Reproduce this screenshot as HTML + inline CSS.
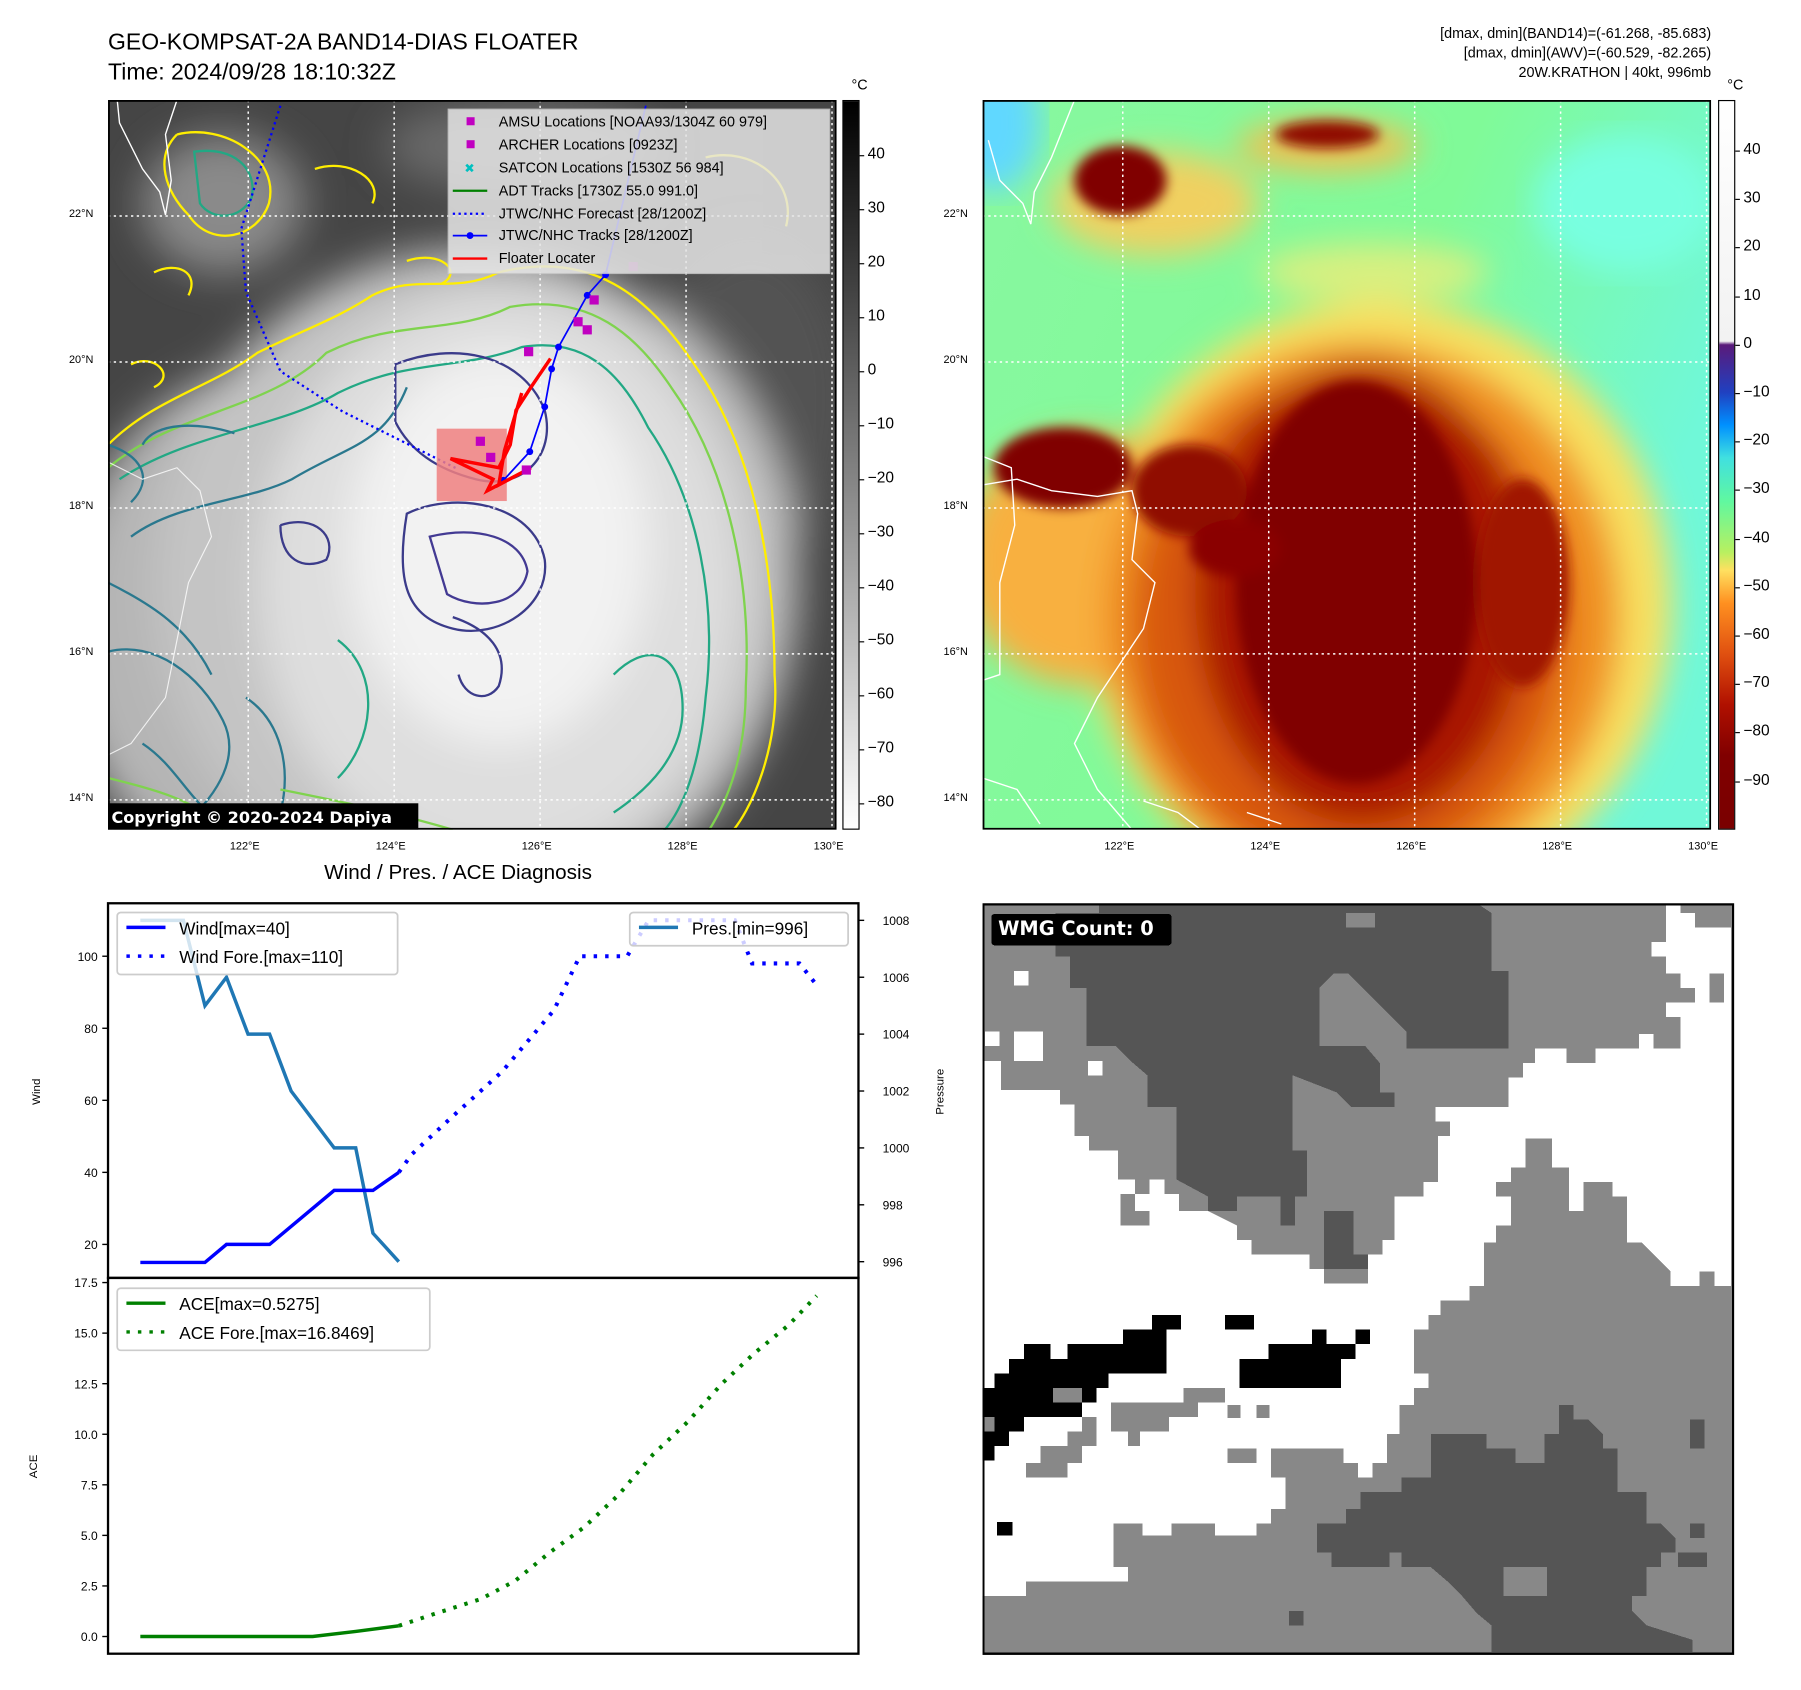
<!DOCTYPE html>
<html><head><meta charset="utf-8">
<style>
html,body{margin:0;padding:0;background:#fff;}
body{width:1801px;height:1690px;overflow:hidden;position:relative;font-family:"Liberation Sans","DejaVu Sans",sans-serif;}
#wrap{position:absolute;left:0;top:0;width:1568px;height:1471px;transform:scale(1.1492);transform-origin:0 0;}
.abs{position:absolute;}
.t{position:absolute;white-space:nowrap;color:#000;}
</style></head>
<body>
<div id="wrap">
<div class="t" style="left:94px;top:24px;font-size:20px;line-height:26px;">GEO-KOMPSAT-2A BAND14-DIAS FLOATER<br>Time: 2024/09/28 18:10:32Z</div>
<div class="t" style="right:79px;top:21px;font-size:12.5px;line-height:17px;text-align:right;">[dmax, dmin](BAND14)=(-61.268, -85.683)<br>[dmax, dmin](AWV)=(-60.529, -82.265)<br>20W.KRATHON | 40kt, 996mb</div>

<!-- MAP 1 -->
<svg class="abs" style="left:94px;top:87px" width="634" height="635" viewBox="0 0 634 635">
<defs>
<filter id="b1"><feGaussianBlur stdDeviation="18"/></filter>
<filter id="b2"><feGaussianBlur stdDeviation="6"/></filter>
</defs>
<rect width="634" height="635" fill="#454545"/>
<g filter="url(#b1)">
<ellipse cx="100" cy="90" rx="70" ry="60" fill="#8a8a8a"/>
<ellipse cx="360" cy="40" rx="120" ry="40" fill="#6a6a6a"/>
<ellipse cx="560" cy="260" rx="90" ry="140" fill="#525252"/>
<ellipse cx="150" cy="460" rx="190" ry="230" fill="#b5b5b5"/>
<ellipse cx="320" cy="420" rx="280" ry="290" fill="#c4c4c4"/>
<ellipse cx="340" cy="420" rx="210" ry="250" fill="#dedede"/>
<ellipse cx="340" cy="390" rx="130" ry="170" fill="#f2f2f2"/>
</g>
<g fill="none" stroke-width="2">
<path d="M0,300 C40,260 90,250 130,220 C170,200 200,190 230,170 C270,150 300,170 340,150 C420,130 470,170 510,230 C560,300 580,400 580,500 C585,560 560,620 540,640" stroke="#ffee00"/>
<path d="M0,320 C60,270 140,270 190,220 C250,190 300,205 350,180 C420,168 460,205 490,250 C540,320 560,420 555,510 C555,570 540,610 520,640" stroke="#7fd34e"/>
<path d="M10,330 C70,290 150,285 200,255 C260,225 310,235 360,215 C420,205 450,245 470,285 C515,350 530,440 520,520 C515,580 500,620 480,640" stroke="#22a884"/>
<path d="M30,300 C40,280 80,280 110,290 M20,380 C60,350 120,350 160,330 C210,300 240,300 260,250" stroke="#2a788e"/>
<path d="M60,30 C100,20 150,50 140,90 C130,120 90,130 70,100 C50,80 40,50 60,30" stroke="#ffee00"/>
<path d="M75,45 C110,40 130,60 125,85 C115,105 90,105 80,90 Z" stroke="#22a884"/>
<path d="M40,150 C60,140 80,150 70,170 M20,230 C40,220 60,240 40,250 M180,60 C210,50 240,70 230,90 M260,140 C290,130 310,150 290,160 M520,50 C560,40 600,70 590,110" stroke="#ffee00"/>
<path d="M250,230 C300,210 360,220 380,270 C390,310 360,340 320,330 C280,320 260,300 250,280 Z" stroke="#3b3b8a"/>
<path d="M260,360 C300,340 370,350 380,400 C385,440 340,470 300,460 C260,450 250,420 260,360 Z" stroke="#3b3b8a"/>
<path d="M280,380 C320,370 360,380 365,410 C360,440 320,445 295,430 Z" stroke="#433a93"/>
<path d="M300,450 C330,460 350,480 340,510 C330,525 310,520 305,500" stroke="#3b3b8a"/>
<path d="M150,370 C180,360 200,380 190,400 C170,410 150,400 150,370" stroke="#3b3b8a"/>
<path d="M0,300 C30,310 40,330 20,350 M0,480 C40,470 80,500 100,540 C120,580 80,620 60,635" stroke="#2a788e"/>
<path d="M0,420 C40,440 70,460 90,500 M30,560 C60,580 70,610 100,630 M120,520 C150,540 160,580 150,620" stroke="#2a788e"/>
<path d="M440,500 C470,470 500,480 500,530 C500,570 470,600 440,620" stroke="#22a884"/>
<path d="M200,470 C240,500 230,560 200,590" stroke="#22a884"/>
<path d="M0,590 C40,600 80,610 100,635 M150,600 C200,610 250,620 300,635" stroke="#7fd34e"/>
</g>
<g stroke="#fff" stroke-width="1.3" stroke-dasharray="2,3">
<line x1="122" y1="0" x2="122" y2="635"/><line x1="249" y1="0" x2="249" y2="635"/><line x1="376" y1="0" x2="376" y2="635"/><line x1="503" y1="0" x2="503" y2="635"/><line x1="630" y1="0" x2="630" y2="635"/>
<line x1="0" y1="101" x2="634" y2="101"/><line x1="0" y1="228" x2="634" y2="228"/><line x1="0" y1="355" x2="634" y2="355"/><line x1="0" y1="482" x2="634" y2="482"/><line x1="0" y1="609" x2="634" y2="609"/>
</g>
<path d="M8,0 L10,20 L30,60 L45,80 L50,100 L55,70 L50,30 L60,0" fill="none" stroke="#fff" stroke-width="1.2"/>
<path d="M0,315 L30,330 L60,320 L80,340 L90,380 L70,420 L60,470 L50,520 L20,560 L0,570" fill="none" stroke="#fff" stroke-width="1" opacity="0.8"/>
<polyline points="150,5 116,112 120,167 150,236 204,271 254,296 304,321" fill="none" stroke="#0000ff" stroke-width="2" stroke-dasharray="2,3"/>
<rect x="286" y="286" width="61" height="63" fill="#f08080" opacity="0.85"/>
<polyline points="468,5 433,152 417,170 392,215 386,234 380,267 367,306 344,331" fill="none" stroke="#0000ff" stroke-width="1.5"/>
<g fill="#0000ff"><circle cx="433" cy="152" r="3"/><circle cx="417" cy="170" r="3"/><circle cx="392" cy="215" r="3"/><circle cx="386" cy="234" r="3"/><circle cx="380" cy="267" r="3"/><circle cx="367" cy="306" r="3"/><circle cx="344" cy="331" r="3"/></g>
<polyline points="385,225 368,250 355,270 350,300 340,320 298,312 335,330 330,340 368,320 340,335 345,305 360,255" fill="none" stroke="#ff0000" stroke-width="3"/>
<g fill="#c000c0"><rect x="362" y="215" width="8" height="8"/><rect x="405" y="189" width="8" height="8"/><rect x="413" y="196" width="8" height="8"/><rect x="419" y="170" width="8" height="8"/><rect x="360" y="318" width="8" height="8"/><rect x="320" y="293" width="8" height="8"/><rect x="329" y="307" width="8" height="8"/><rect x="453" y="141" width="8" height="8" opacity="0.5"/></g>
<rect x="296" y="8" width="332" height="143" fill="#e6e6e6" opacity="0.85" stroke="#ccc"/>
<g font-size="12.5" fill="#000" font-family="Liberation Sans, sans-serif">
<rect x="312" y="15" width="7" height="7" fill="#c000c0"/><text x="340" y="23">AMSU Locations [NOAA93/1304Z 60 979]</text>
<rect x="312" y="35" width="7" height="7" fill="#c000c0"/><text x="340" y="43">ARCHER Locations [0923Z]</text>
<text x="310" y="63" fill="#00c0c0" font-size="11">✖</text><text x="340" y="63">SATCON Locations [1530Z 56 984]</text>
<line x1="300" y1="79" x2="330" y2="79" stroke="#008000" stroke-width="2"/><text x="340" y="83">ADT Tracks [1730Z 55.0 991.0]</text>
<line x1="300" y1="99" x2="330" y2="99" stroke="#0000ff" stroke-width="2" stroke-dasharray="2,3"/><text x="340" y="103">JTWC/NHC Forecast [28/1200Z]</text>
<line x1="300" y1="118" x2="330" y2="118" stroke="#0000ff" stroke-width="1.5"/><circle cx="315" cy="118" r="3" fill="#0000ff"/><text x="340" y="122">JTWC/NHC Tracks [28/1200Z]</text>
<line x1="300" y1="138" x2="330" y2="138" stroke="#ff0000" stroke-width="2"/><text x="340" y="142">Floater Locater</text>
</g>
<rect x="0" y="612" width="270" height="23" fill="#000"/>
<text x="3" y="629" fill="#fff" font-size="14" font-weight="bold" font-family="DejaVu Sans, sans-serif">Copyright © 2020-2024 Dapiya</text>
<rect x="0.8" y="0.8" width="632.4" height="633.4" fill="none" stroke="#000" stroke-width="1.6"/>
</svg>

<div>
<div class="t" style="left:60px;top:181px;font-size:9.5px">22°N</div>
<div class="t" style="left:60px;top:308px;font-size:9.5px">20°N</div>
<div class="t" style="left:60px;top:435px;font-size:9.5px">18°N</div>
<div class="t" style="left:60px;top:562px;font-size:9.5px">16°N</div>
<div class="t" style="left:60px;top:689px;font-size:9.5px">14°N</div>
</div>
<div>
<div class="t" style="left:200px;top:731px;font-size:9.5px">122°E</div>
<div class="t" style="left:327px;top:731px;font-size:9.5px">124°E</div>
<div class="t" style="left:454px;top:731px;font-size:9.5px">126°E</div>
<div class="t" style="left:581px;top:731px;font-size:9.5px">128°E</div>
<div class="t" style="left:708px;top:731px;font-size:9.5px">130°E</div>
</div>
<div>
<div class="t" style="left:821px;top:181px;font-size:9.5px">22°N</div>
<div class="t" style="left:821px;top:308px;font-size:9.5px">20°N</div>
<div class="t" style="left:821px;top:435px;font-size:9.5px">18°N</div>
<div class="t" style="left:821px;top:562px;font-size:9.5px">16°N</div>
<div class="t" style="left:821px;top:689px;font-size:9.5px">14°N</div>
</div>
<div>
<div class="t" style="left:961px;top:731px;font-size:9.5px">122°E</div>
<div class="t" style="left:1088px;top:731px;font-size:9.5px">124°E</div>
<div class="t" style="left:1215px;top:731px;font-size:9.5px">126°E</div>
<div class="t" style="left:1342px;top:731px;font-size:9.5px">128°E</div>
<div class="t" style="left:1469px;top:731px;font-size:9.5px">130°E</div>
</div>

<div class="t" style="left:741px;top:67px;font-size:12.5px">°C</div>
<div class="abs" style="left:733px;top:87px;width:13px;height:633px;border:1px solid #000;background:linear-gradient(#000,#fff);"></div>
<div id="cb1"></div>

<!-- MAP 2 -->
<svg class="abs" style="left:855px;top:87px" width="634" height="635" viewBox="0 0 634 635">
<defs>
<filter id="c1"><feGaussianBlur stdDeviation="14"/></filter>
<filter id="c2"><feGaussianBlur stdDeviation="5"/></filter>
<linearGradient id="bgg" x1="0" y1="0" x2="1" y2="0.4"><stop offset="0" stop-color="#88f8a0"/><stop offset="0.6" stop-color="#80fa98"/><stop offset="1" stop-color="#70f8d8"/></linearGradient>
</defs>
<rect width="634" height="635" fill="url(#bgg)"/>
<ellipse cx="10" cy="20" rx="40" ry="60" fill="#60d8ff" filter="url(#c1)"/>
<ellipse cx="560" cy="90" rx="80" ry="60" fill="#78ffe0" filter="url(#c1)"/>
<g filter="url(#c1)">
<ellipse cx="150" cy="90" rx="90" ry="45" fill="#f0d060"/>
<ellipse cx="300" cy="40" rx="80" ry="22" fill="#f0c050"/>
<ellipse cx="340" cy="150" rx="100" ry="25" fill="#d8f080"/>
<ellipse cx="345" cy="440" rx="255" ry="265" fill="#f8e060"/>
<ellipse cx="90" cy="400" rx="110" ry="110" fill="#f8b040"/>
<ellipse cx="330" cy="450" rx="225" ry="240" fill="#f09020"/>
<ellipse cx="320" cy="455" rx="190" ry="215" fill="#d85810"/>
<ellipse cx="330" cy="430" rx="145" ry="200" fill="#a81800"/>
</g>
<g filter="url(#c2)">
<ellipse cx="325" cy="420" rx="105" ry="175" fill="#800000"/>
<ellipse cx="120" cy="70" rx="40" ry="30" fill="#800000"/>
<ellipse cx="300" cy="30" rx="45" ry="12" fill="#900800"/>
<ellipse cx="70" cy="320" rx="60" ry="35" fill="#800000"/>
<ellipse cx="180" cy="340" rx="50" ry="40" fill="#900800"/>
<ellipse cx="220" cy="390" rx="40" ry="25" fill="#8a0500"/>
<ellipse cx="470" cy="420" rx="40" ry="90" fill="#a01800"/>
</g>
<g stroke="#fff" stroke-width="1.3" stroke-dasharray="2,3">
<line x1="122" y1="0" x2="122" y2="635"/><line x1="249" y1="0" x2="249" y2="635"/><line x1="376" y1="0" x2="376" y2="635"/><line x1="503" y1="0" x2="503" y2="635"/><line x1="630" y1="0" x2="630" y2="635"/>
<line x1="0" y1="101" x2="634" y2="101"/><line x1="0" y1="228" x2="634" y2="228"/><line x1="0" y1="355" x2="634" y2="355"/><line x1="0" y1="482" x2="634" y2="482"/><line x1="0" y1="609" x2="634" y2="609"/>
</g>
<path d="M5,35 L15,70 L35,90 L42,108 L45,80 L60,50 L80,0" fill="none" stroke="#fff" stroke-width="1.2"/>
<path d="M0,335 L30,330 L60,340 L100,345 L130,340 L135,360 L130,400 L150,420 L140,460 L120,490 L100,520 L80,560 L100,600 L130,635" fill="none" stroke="#fff" stroke-width="1.2"/>
<path d="M0,310 L25,320 L28,370 L15,420 L15,500 L0,505" fill="none" stroke="#fff" stroke-width="1.2"/>
<path d="M0,590 L30,600 L50,630 M140,610 L170,620 L190,635 M230,620 L260,630" fill="none" stroke="#fff" stroke-width="1.2"/>
<rect x="0.8" y="0.8" width="632.4" height="633.4" fill="none" stroke="#000" stroke-width="1.6"/>
</svg>

<div class="t" style="left:1503px;top:67px;font-size:12.5px">°C</div>
<div class="abs" style="left:1495px;top:87px;width:13px;height:633px;border:1px solid #000;background:linear-gradient(#fff 0%,#f2f2f2 33%,#5a1a7a 33.5%,#2040c0 40%,#0090ff 44.5%,#40e0e0 49%,#60f8a0 55%,#b8f060 62%,#ffe060 64.5%,#ff9020 69%,#e05010 76%,#b01000 83%,#800000 90%,#7a0000 100%);"></div>
<div id="cb2"></div>

<div class="t" style="left:282px;top:749px;font-size:18px">Wind / Pres. / ACE Diagnosis</div>

<svg id="chart" class="abs" style="left:0;top:770px" width="860" height="690" viewBox="0 770 860 690"></svg>

<svg class="abs" style="left:855px;top:786px" width="654" height="654" viewBox="0 0 1551 1551" shape-rendering="crispEdges">
<rect width="1551" height="1551" fill="#888"/>
<polygon fill="#555" points="240,0 1020,0 1050,20 1050,140 1085,140 1085,300 875,300 875,265 845,235 815,205 785,175 755,145 725,145 695,175 695,295 790,295 820,330 820,390 850,390 850,420 760,420 730,390 640,355 640,510 670,510 670,605 645,605 645,665 615,665 615,605 525,605 525,635 465,635 465,605 400,570 400,420 340,420 340,355 305,325 275,295 215,295 215,175 180,175 180,110 150,110 150,20 240,20"/>
<rect x="750" y="20" width="60" height="30" fill="#888"/>
<polygon fill="#555" points="705,635 765,635 765,725 795,725 795,755 705,755"/>
<polygon fill="#555" points="690,1280 750,1280 750,1250 780,1250 780,1215 865,1215 865,1185 925,1185 925,1095 1040,1095 1040,1125 1100,1125 1100,1155 1160,1155 1160,1095 1190,1095 1190,1035 1220,1035 1220,1065 1250,1065 1280,1095 1280,1125 1310,1125 1310,1215 1370,1215 1370,1280 1400,1280 1430,1310 1430,1340 1400,1340 1400,1370 1370,1370 1370,1430 1340,1430 1340,1460 1370,1490 1465,1520 1465,1545 1050,1545 1050,1490 1020,1465 990,1430 960,1400 925,1370 865,1370 865,1340 840,1340 840,1370 720,1370 720,1340 690,1340"/>
<rect x="1075" y="1370" width="90" height="60" fill="#888"/>
<rect x="1460" y="1065" width="30" height="60" fill="#555"/><rect x="1460" y="1280" width="30" height="30" fill="#555"/><rect x="1435" y="1340" width="60" height="30" fill="#555"/><rect x="632" y="1460" width="30" height="30" fill="#555"/>
<polygon fill="#fff" points="1410,0 1440,0 1440,20 1470,20 1470,50 1545,50 1545,300 1440,300 1440,235 1410,235 1410,205 1470,205 1470,175 1440,175 1440,145 1410,145 1410,110 1380,110 1380,80 1410,80"/>
<rect x="1500" y="145" width="30" height="60" fill="#888"/>
<polygon fill="#fff" points="1440,300 1545,300 1545,790 1510,790 1510,760 1480,760 1480,790 1420,790 1420,760 1390,730 1360,700 1330,700 1330,605 1300,605 1300,575 1240,575 1240,635 1210,635 1210,545 1175,545 1175,485 1120,485 1120,545 1090,545 1090,575 1060,575 1060,605 1090,605 1090,665 1060,665 1060,700 1035,700 1035,790 1005,790 1005,820 945,820 945,850 920,850 920,880 890,880 890,970 920,970 920,1000 890,1000 890,1035 860,1035 860,1095 835,1095 835,1155 805,1155 805,1185 775,1185 775,1155 745,1155 745,1125 595,1125 595,1185 625,1185 625,1250 595,1250 595,1280 565,1280 565,1305 480,1305 480,1280 390,1280 390,1305 330,1305 330,1280 270,1280 270,1370 300,1370 300,1400 90,1400 90,1430 0,1430 0,385 160,385 160,415 190,415 190,480 220,480 220,510 280,510 280,570 315,570 315,600 345,600 345,570 375,570 375,600 405,600 405,635 465,635 525,665 525,695 555,695 555,725 675,725 675,755 705,755 705,785 795,785 795,725 825,725 825,695 850,695 850,605 910,605 910,575 940,575 940,480 965,480 965,450 935,450 935,420 1085,420 1085,360 1115,360 1115,330 1140,330 1140,300 1205,300 1205,330 1265,330 1265,300 1355,300 1355,270 1385,270 1385,300"/>
<polygon fill="#888" points="285,600 315,600 315,635 345,635 345,665 285,665"/>
<polygon fill="#888" points="265,1030 415,1030 415,1000 500,1000 500,1030 445,1030 445,1060 385,1060 385,1090 325,1090 325,1120 300,1120 300,1090 265,1090"/>
<rect x="505" y="1035" width="27" height="27" fill="#888"/><rect x="565" y="1035" width="27" height="27" fill="#888"/><rect x="505" y="1125" width="60" height="30" fill="#888"/>
<rect x="90" y="1155" width="85" height="30" fill="#888"/><rect x="120" y="1120" width="85" height="35" fill="#888"/><rect x="175" y="1090" width="60" height="30" fill="#888"/><rect x="205" y="1060" width="30" height="30" fill="#888"/>
<rect x="65" y="140" width="30" height="30" fill="#fff"/><rect x="5" y="265" width="30" height="30" fill="#fff"/><rect x="65" y="265" width="60" height="60" fill="#fff"/><rect x="218" y="325" width="30" height="30" fill="#fff"/><rect x="0" y="325" width="38" height="60" fill="#fff"/>
<polygon fill="#000" points="0,1000 25,1000 25,970 55,970 55,940 85,940 85,910 140,910 140,940 175,940 175,910 290,910 290,880 350,880 350,850 410,850 410,880 380,880 380,970 260,970 260,1000 235,1000 235,1030 205,1030 205,1060 85,1060 85,1090 55,1090 55,1120 25,1120 25,1150 0,1150"/>
<rect x="145" y="1000" width="60" height="30" fill="#888"/><rect x="0" y="1060" width="25" height="30" fill="#888"/>
<polygon fill="#000" points="530,940 590,940 590,910 680,910 680,880 710,880 710,910 770,910 770,940 740,940 740,1000 530,1000"/>
<rect x="500" y="850" width="60" height="30" fill="#000"/><rect x="770" y="880" width="30" height="30" fill="#000"/><rect x="30" y="1277" width="32" height="28" fill="#000"/>
<rect x="18" y="22" width="372" height="65" rx="7" fill="#000"/>
<text x="32" y="66" fill="#fff" font-size="40" font-weight="bold" font-family="DejaVu Sans, sans-serif">WMG Count: 0</text>
<rect x="2" y="2" width="1547" height="1547" fill="none" stroke="#000" stroke-width="5"/>
</svg>
</div>

<script>
const cb1Ticks=[40,30,20,10,0,-10,-20,-30,-40,-50,-60,-70,-80];
const cb2Ticks=[40,30,20,10,0,-10,-20,-30,-40,-50,-60,-70,-80,-90];
function addCbTicks(id,ticks,left,y0,v0,ppu){
  const host=document.getElementById(id);
  ticks.forEach(v=>{
    const y=y0+(v0-v)*ppu;
    const tk=document.createElement('div');
    tk.className='abs';
    tk.style.cssText=`left:${left}px;top:${y}px;width:4px;height:1px;background:#000`;
    
    
    host.appendChild(tk);
    const d=document.createElement('div');
    d.className='t';
    d.style.cssText=`left:${left+7}px;top:${y-9}px;font-size:13.5px`;
    d.textContent=v<0?'\u2212'+Math.abs(v):String(v);
    
    
    host.appendChild(d);
  });
}
addCbTicks('cb1',cb1Ticks,748,135,40,4.7);
addCbTicks('cb2',cb2Ticks,1510,131,40,4.22);

const windObsT=[0,15,20,30,45,54,60];
const windObsV=[15,15,20,20,35,35,40];
const windFcT=[60,63,72,84,96,102,113,118,138,142,153,157];
const windFcV=[40,45,55,68,85,100,100,110,110,98,98,92];
const presT=[0,10,15,20,25,30,35,45,50,54,60];
const presV=[1008,1008,1005,1006,1004,1004,1002,1000,1000,997,996];
const aceObsT=[0,40,50,60];
const aceObsV=[0,0,0.25,0.53];
const aceFcT=[60,68,79,87,95,103,111,119,127,135,142.5,150.5,157];
const aceFcV=[0.53,1.1,1.85,2.75,4.15,5.4,7.0,9.0,10.6,12.5,14.0,15.4,16.85];
const windTicks=[20,40,60,80,100];
const presTicks=[996,998,1000,1002,1004,1006,1008];
const aceTicks=[0,2.5,5,7.5,10,12.5,15,17.5];

const L=94,R=747,T1=786,B1=1112,T2=1112,B2=1439;
const xT=t=>L+(t+7.5)*(R-L)/(166.7+7.5);
const yW=v=>B1-(v-10.7)*(B1-T1)/(114.7-10.7);
const yP=p=>B1-(p-995.43)*(B1-T1)/(1008.6-995.43);
const yA=a=>B2-(a+0.85)*(B2-T2)/(17.73+0.85);

const svg=document.getElementById('chart');
const NS='http://www.w3.org/2000/svg';
function el(tag,attrs,parent){const e=document.createElementNS(NS,tag);for(const k in attrs)e.setAttribute(k,attrs[k]);(parent||svg).appendChild(e);return e;}
function line(ts,vs,fx,fy,color,w,dash,name){
  const p=el('polyline',{points:ts.map((t,i)=>fx(t)+','+fy(vs[i])).join(' '),fill:'none',stroke:color,'stroke-width':w});
  if(dash)p.setAttribute('stroke-dasharray',dash);
  
  
}
function text(x,y,s,size,anchor,name,rot){
  const e=el('text',{x:x,y:y,'font-size':size,'text-anchor':anchor||'start','font-family':'Liberation Sans, DejaVu Sans, sans-serif'});
  if(rot)e.setAttribute('transform',`rotate(-90 ${x} ${y})`);
  e.textContent=s;
  
  
  return e;
}
windTicks.forEach(v=>{el('line',{x1:L-5,x2:L,y1:yW(v),y2:yW(v),stroke:'#000','stroke-width':1.2});text(L-9,yW(v)+4,String(v),10.5,'end','wind-tick-label');});
presTicks.forEach(v=>{el('line',{x1:R,x2:R+5,y1:yP(v),y2:yP(v),stroke:'#000','stroke-width':1.2});text(R+21,yP(v)+4,String(v),10.5,'start','pressure-tick-label');});
aceTicks.forEach(v=>{el('line',{x1:L-5,x2:L,y1:yA(v),y2:yA(v),stroke:'#000','stroke-width':1.2});text(L-9,yA(v)+4,v.toFixed(1),10.5,'end','ace-tick-label');});
text(35,950,'Wind',10,'middle','wind-axis-title',true);
text(821,950,'Pressure',10,'middle','pressure-axis-title',true);
text(32,1276,'ACE',10,'middle','ace-axis-title',true);
line(presT,presV,xT,yP,'#1f77b4',3,null,'pressure-line');
line(windObsT,windObsV,xT,yW,'#0000ff',3,null,'wind-line');
line(windFcT,windFcV,xT,yW,'#0000ff',3.5,'3,7','wind-forecast-line');
line(aceObsT,aceObsV,xT,yA,'#008000',3,null,'ace-line');
line(aceFcT,aceFcV,xT,yA,'#008000',3.5,'3,7','ace-forecast-line');
function legend(x,y,w,h,items,name){
  const g=el('g',{});
  
  
  el('rect',{x:x,y:y,width:w,height:h,rx:3,fill:'#fff','fill-opacity':0.8,stroke:'#ccc','stroke-width':1.5},g);
  items.forEach((it,i)=>{
    const yy=y+13+i*25;
    const l=el('line',{x1:x+8,x2:x+42,y1:yy,y2:yy,stroke:it.c,'stroke-width':3},g);
    if(it.d)l.setAttribute('stroke-dasharray','3,7');
    const t=el('text',{x:x+54,y:yy+6,'font-size':15,'font-family':'Liberation Sans, DejaVu Sans, sans-serif'},g);
    t.textContent=it.s;
  });
}
legend(102,794,244,54,[{c:'#0000ff',s:'Wind[max=40]'},{c:'#0000ff',s:'Wind Fore.[max=110]',d:1}],'wind-legend');
legend(548,794,190,29,[{c:'#1f77b4',s:'Pres.[min=996]'}],'pressure-legend');
legend(102,1121,272,54,[{c:'#008000',s:'ACE[max=0.5275]'},{c:'#008000',s:'ACE Fore.[max=16.8469]',d:1}],'ace-legend');
const f1=el('rect',{x:L,y:T1,width:R-L,height:B1-T1,fill:'none',stroke:'#000','stroke-width':2});


const f2=el('rect',{x:L,y:T2,width:R-L,height:B2-T2,fill:'none',stroke:'#000','stroke-width':2});


</script>
</body></html>
